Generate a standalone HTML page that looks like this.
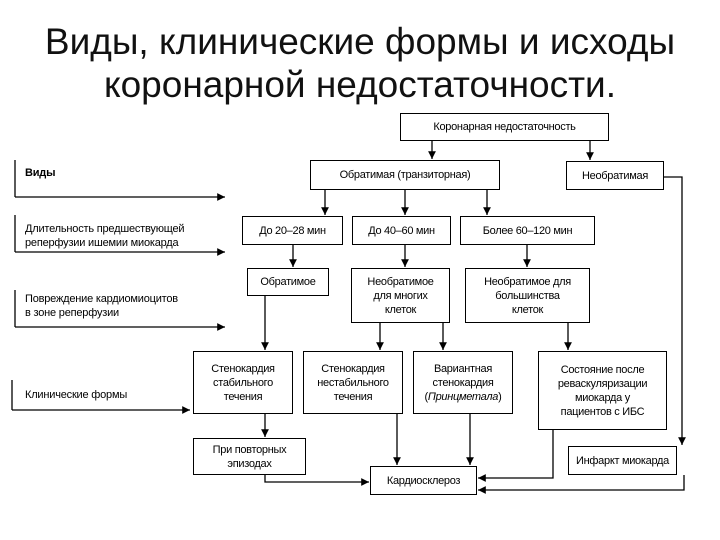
<!DOCTYPE html>
<html><head><meta charset="utf-8"><style>
body{margin:0;background:#fff;width:720px;height:540px;overflow:hidden;position:relative;font-family:"Liberation Sans",sans-serif;}
.t{position:absolute;left:0;width:720px;text-align:center;font-size:37px;color:#111;line-height:43px;}
.b{position:absolute;border:1.3px solid #000;box-sizing:border-box;display:flex;align-items:center;justify-content:center;text-align:center;font-size:11px;line-height:14px;color:#000;letter-spacing:-0.3px;}
.l{position:absolute;font-size:11px;line-height:14px;color:#000;letter-spacing:-0.2px;}
svg{position:absolute;left:0;top:0;}
</style></head><body>
<div class="t" style="top:20px">Виды, клинические формы и исходы</div>
<div class="t" style="top:63px">коронарной недостаточности.</div>
<svg width="720" height="540">
<defs><marker id="a" markerWidth="7" markerHeight="7" refX="6" refY="3" orient="auto"><path d="M0,0L6,3L0,6z" fill="#000"/></marker></defs>
<g stroke="#000" stroke-width="1.3" fill="none" marker-end="url(#a)">
<path d="M15,197H225"/><path d="M15,252H225"/><path d="M15,327H225"/><path d="M12,410H190"/>
<path d="M432,141V159"/><path d="M590,141V160"/>
<path d="M325,190V215"/><path d="M405,190V215"/><path d="M487,190V215"/>
<path d="M293,245V267"/><path d="M405,245V267"/><path d="M527,245V267"/>
<path d="M265,296V350"/><path d="M380,323V350"/><path d="M443,323V350"/><path d="M568,323V350"/>
<path d="M664,177H682V445"/>
<path d="M265,414V437"/>
<path d="M265,475V482H369"/>
<path d="M397,414V465"/><path d="M470,414V465"/>
<path d="M553,430V478H478"/><path d="M684,475V490H478"/>
</g>
<g stroke="#000" stroke-width="1.3"><path d="M15,160V197"/><path d="M15,215V252"/><path d="M15,290V327"/><path d="M12,380V410"/></g>
</svg>
<div class="l" style="left:25px;top:166px;font-weight:bold">Виды</div>
<div class="l" style="left:25px;top:222px">Длительность предшествующей<br>реперфузии ишемии миокарда</div>
<div class="l" style="left:25px;top:292px">Повреждение кардиомиоцитов<br>в зоне реперфузии</div>
<div class="l" style="left:25px;top:388px">Клинические формы</div>
<div class="b" style="left:400px;top:113px;width:209px;height:28px"><div>Коронарная недостаточность</div></div>
<div class="b" style="left:310px;top:160px;width:190px;height:30px"><div>Обратимая (транзиторная)</div></div>
<div class="b" style="left:566px;top:161px;width:98px;height:29px"><div>Необратимая</div></div>
<div class="b" style="left:242px;top:216px;width:101px;height:29px"><div>До 20–28 мин</div></div>
<div class="b" style="left:352px;top:216px;width:99px;height:29px"><div>До 40–60 мин</div></div>
<div class="b" style="left:460px;top:216px;width:135px;height:29px"><div>Более 60–120 мин</div></div>
<div class="b" style="left:247px;top:268px;width:82px;height:28px"><div>Обратимое</div></div>
<div class="b" style="left:351px;top:268px;width:99px;height:55px"><div>Необратимое<br>для многих<br>клеток</div></div>
<div class="b" style="left:465px;top:268px;width:125px;height:55px"><div>Необратимое для<br>большинства<br>клеток</div></div>
<div class="b" style="left:193px;top:351px;width:100px;height:63px"><div>Стенокардия<br>стабильного<br>течения</div></div>
<div class="b" style="left:303px;top:351px;width:100px;height:63px"><div>Стенокардия<br>нестабильного<br>течения</div></div>
<div class="b" style="left:413px;top:351px;width:100px;height:63px"><div>Вариантная<br>стенокардия<br>(<i>Принцметала</i>)</div></div>
<div class="b" style="left:538px;top:351px;width:129px;height:79px"><div>Состояние после<br>реваскуляризации<br>миокарда у<br>пациентов с ИБС</div></div>
<div class="b" style="left:193px;top:438px;width:113px;height:37px"><div>При повторных<br>эпизодах</div></div>
<div class="b" style="left:370px;top:466px;width:107px;height:29px"><div>Кардиосклероз</div></div>
<div class="b" style="left:568px;top:446px;width:109px;height:29px"><div>Инфаркт миокарда</div></div>
</body></html>
